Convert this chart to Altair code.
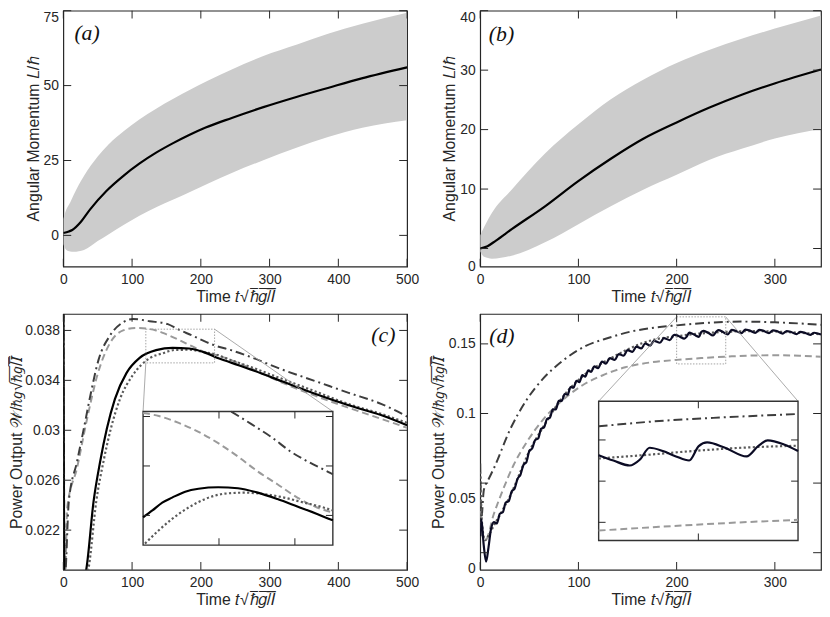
import altair as alt
import pandas as pd

FONT = "Liberation Sans"
FRAME = "#262626"

# ---------------- Panel (a): angular momentum, long run ----------------
a_t = [0, 8, 13, 25, 39, 63, 87, 111, 135, 159, 183, 207, 245, 291, 339, 386, 434, 500]
a_L = [0.8, 1.3, 1.8, 4.4, 8.7, 14.9, 19.8, 24.0, 27.6, 30.7, 33.5, 36.0, 39.2, 42.8, 46.2, 49.3, 52.4, 56.1]
a_band_t = [0, 4, 10, 15, 30, 50, 65, 90, 110, 135, 160, 185, 210, 245, 290, 340, 385, 435, 500]
a_hi = [5.5, 8.5, 11, 13.5, 19.8, 26.3, 30.2, 35.2, 38.6, 42.3, 45.6, 48.7, 51.6, 55.4, 59.8, 63.7, 67.3, 70.6, 74.3]
a_lo = [-3.0, -4.8, -5.4, -5.5, -4.9, -1.9, 0.2, 3.8, 6.5, 9.4, 12.0, 14.6, 17.2, 20.8, 25.0, 29.3, 32.8, 35.9, 38.4]

# ---------------- Panel (b): angular momentum, short run ----------------
b_t = [0, 7.4, 15.7, 32.5, 66, 99.5, 133, 166.5, 200, 233.5, 267, 300.5, 347]
b_L = [0.0, 0.39, 1.3, 3.3, 7.1, 11.3, 15.1, 18.5, 21.2, 23.7, 25.9, 27.8, 30.1]
b_band_t = [0, 4, 12, 32, 66, 100, 133, 166, 200, 233, 267, 300, 347]
b_hi = [2.2, 3.6, 6.0, 9.9, 16.0, 20.9, 25.1, 28.4, 31.2, 33.4, 35.3, 37.0, 39.2]
b_lo = [-0.5, -1.4, -1.7, -1.2, 1.05, 4.1, 7.1, 9.9, 12.4, 14.9, 16.8, 18.5, 20.1]

# ---------------- Panel (c): power output ----------------
c_solid_t = [0, 1.5, 30, 33.5, 44, 53.6, 63.2, 75, 92, 111, 135, 159, 183, 207, 220, 245, 271, 319, 367, 415, 463, 500]
c_solid = [0.041, 0.018, 0.018, 0.0189, 0.0243, 0.0275, 0.0301, 0.0325, 0.0346, 0.0358, 0.03642, 0.0366, 0.03655,
           0.0362, 0.0359, 0.0354, 0.0349, 0.0339, 0.0329, 0.032, 0.0312, 0.0304]
c_dotted_t = [0, 1.5, 33, 36.9, 47.9, 58.4, 69, 82.4, 101.5, 125.5, 144, 163, 183, 204.7, 220, 245, 271, 319, 367, 415, 463, 500]
c_dotted = [0.041, 0.018, 0.018, 0.019, 0.0243, 0.0275, 0.0301, 0.0325, 0.03445, 0.03577, 0.03616, 0.03644, 0.03645,
            0.03626, 0.0361, 0.0356, 0.0351, 0.0341, 0.0331, 0.0321, 0.0313, 0.0306]
c_dashed_t = [0, 2.5, 5.7, 20, 34.5, 48.9, 68, 87, 106, 135, 150, 170, 190.8, 211.7, 220, 245, 271, 319, 367, 415, 463, 500]
c_dashed = [0.041, 0.018, 0.0238, 0.027, 0.0309, 0.0343, 0.037, 0.038, 0.0382, 0.0380, 0.03769, 0.03719, 0.03663,
            0.03616, 0.03606, 0.0356, 0.0350, 0.0338, 0.03275, 0.0318, 0.0309, 0.0302]
c_dashdot_t = [0, 2, 8, 20, 29.7, 39.2, 51.2, 68, 87, 101.5, 125.5, 152, 166.5, 187.4, 208.2, 220, 245, 271, 319, 367, 415, 463, 500]
c_dashdot = [0.041, 0.018, 0.0243, 0.0275, 0.0301, 0.03275, 0.03564, 0.0376, 0.03866, 0.03892, 0.03874, 0.0385, 0.0381,
             0.03759, 0.03706, 0.0368, 0.0364, 0.0359, 0.03485, 0.03393, 0.033, 0.0321, 0.0311]

# inset (c), read from the magnified view
ci_solid_t = [120, 124.9, 130.1, 135.3, 142.2, 149.2, 159.6, 170, 180.4, 190.8, 201.3, 211.7, 220]
ci_solid = [0.03596, 0.0361, 0.03626, 0.03636, 0.03648, 0.03654, 0.03657, 0.03655, 0.03646, 0.03633, 0.03618, 0.03603, 0.0359]
ci_dotted_t = [121, 128.3, 135.3, 144, 152.6, 163.1, 173.5, 183.9, 194.3, 204.7, 215.1, 220]
ci_dotted = [0.03543, 0.0357, 0.03593, 0.03616, 0.03633, 0.03644, 0.03646, 0.03643, 0.03636, 0.03626, 0.03616, 0.0361]
ci_dashed_t = [120, 128.3, 138.8, 149.2, 159.6, 170, 180.4, 190.8, 201.3, 211.7, 220]
ci_dashed = [0.03807, 0.03801, 0.03787, 0.03769, 0.03746, 0.03719, 0.03689, 0.03663, 0.03636, 0.03616, 0.03606]
ci_dashdot_t = [166.5, 176.9, 187.4, 197.8, 208.2, 218.6, 220]
ci_dashdot = [0.0381, 0.03785, 0.03759, 0.03729, 0.03706, 0.03686, 0.03683]

# ---------------- Panel (d): power output ----------------
d_solid_t = [0, 1.2, 3.5, 6, 8.5, 11, 14, 17, 20, 23, 26, 29, 32, 35, 38, 41, 44, 47, 50, 53, 56, 59, 62, 65, 68, 71,
             74, 77, 80, 83, 86, 89, 92, 95, 98, 101, 104, 107, 110, 113, 116, 120, 124, 128, 132, 137, 141, 146, 150,
             155, 159, 164, 168, 173, 177, 183, 187, 193, 197.5, 200, 203.7, 207.8, 210.3, 212.8, 216.1, 219.4, 222.7,
             225.1, 227.2, 231.7, 237.1, 240, 242.4, 246.5, 250, 252, 256, 260, 266, 270, 274, 280, 284, 288, 294, 298,
             302, 308, 312, 316, 322, 326, 330, 336, 340, 347]
d_solid = [0.012, 0.024, 0.006, -0.0065, 0.004, 0.017, 0.022, 0.021, 0.028, 0.029, 0.036, 0.037, 0.044, 0.046, 0.053,
           0.056, 0.063, 0.065, 0.073, 0.075, 0.081, 0.082, 0.089, 0.090, 0.096, 0.097, 0.103, 0.103, 0.109, 0.109,
           0.114, 0.1135, 0.119, 0.1185, 0.1235, 0.1225, 0.1275, 0.1265, 0.131, 0.1298, 0.1338, 0.1325, 0.1372,
           0.1358, 0.1398, 0.1385, 0.1427, 0.1415, 0.1455, 0.1443, 0.148, 0.1467, 0.1503, 0.1488, 0.1522, 0.1508,
           0.1541, 0.1527, 0.1565, 0.1563, 0.155, 0.1538, 0.1552, 0.1581, 0.1573, 0.156, 0.155, 0.1585, 0.1594,
           0.1581, 0.156, 0.1585, 0.1599, 0.1589, 0.1573, 0.1568, 0.16, 0.1594, 0.1577, 0.1603, 0.1597, 0.1579,
           0.16, 0.1595, 0.1577, 0.1597, 0.1592, 0.1574, 0.1592, 0.1587, 0.157, 0.1586, 0.1581, 0.1565, 0.158, 0.1567]
d_dotted_t = [0, 2, 5, 9, 15, 20, 25, 30, 35, 40, 45, 50, 55, 60, 70, 80, 90, 100, 110, 120, 135, 150, 165, 180, 200,
              225, 250, 275, 300, 325, 347]
d_dotted = [0.058, 0.02, 0.009, 0.013, 0.021, 0.027, 0.0335, 0.04, 0.048, 0.0565, 0.065, 0.073, 0.0795, 0.0855, 0.097,
            0.108, 0.117, 0.124, 0.13, 0.1345, 0.1405, 0.146, 0.1505, 0.1535, 0.1555, 0.1575, 0.1586, 0.1592, 0.1588,
            0.158, 0.1568]
d_dashed_t = [0, 2, 5.3, 13.8, 23.8, 33.9, 47.2, 64, 84.1, 104.2, 124.3, 147.7, 174.6, 200, 225, 250, 275, 300, 325, 347]
d_dashed = [0.038, 0.012, 0.0088, 0.0276, 0.0463, 0.0628, 0.0792, 0.0956, 0.1097, 0.1203, 0.1273, 0.1332, 0.1368,
            0.1385, 0.1398, 0.1408, 0.1416, 0.1418, 0.1415, 0.1408]
d_dashdot_t = [0, 1.2, 3.7, 8, 13.8, 30.5, 47.2, 64, 84.1, 107.5, 131, 154.5, 174.6, 200, 233, 266.6, 300, 347]
d_dashdot = [0.064, 0.025, 0.045, 0.052, 0.0604, 0.0886, 0.1097, 0.125, 0.1379, 0.1485, 0.1544, 0.159, 0.1614,
             0.1633, 0.1652, 0.166, 0.1655, 0.1637]

# inset (d), read from the magnified view
di_solid_t = [200, 203.7, 207.8, 210.3, 212.8, 216.1, 219.4, 222.7, 225.1, 227.2, 231.7, 237.1, 240, 242.4, 246.5, 250]
di_solid = [0.1563, 0.155, 0.1538, 0.1552, 0.1581, 0.1573, 0.156, 0.155, 0.1585, 0.1594, 0.1581, 0.156, 0.1585,
            0.1599, 0.1589, 0.1573]
di_dotted_t = [200, 211.1, 223.5, 235.8, 250]
di_dotted = [0.1555, 0.1563, 0.1573, 0.1581, 0.1586]
di_dashed_t = [200, 215.2, 231.7, 250]
di_dashed = [0.138, 0.1389, 0.1398, 0.1406]
di_dashdot_t = [200, 215.2, 231.7, 250]
di_dashdot = [0.1633, 0.1646, 0.1655, 0.1663]

# axis tick values
a_xticks = [0, 100, 200, 300, 400, 500]
a_yticks = [0, 25, 50, 75]
b_xticks = [0, 100, 200, 300]
b_yticks = [0, 10, 20, 30, 40]
c_yticks = [0.022, 0.026, 0.03, 0.034, 0.038]
d_yticks = [0, 0.05, 0.1, 0.15]
ci_xticks = [160, 200]
ci_yticks = [0.036, 0.037, 0.038]
di_xticks = [225]
di_yticks = [0.14, 0.15, 0.16]

XT = "Time 𝑡√ℏ̅𝑔̅/̅𝐼̅"
YT_L = "Angular Momentum 𝐿/ℏ"
YT_P = "Power Output 𝒲̇/ℏ𝑔√ℏ̅𝑔̅/̅𝐼̅"

STY = {
    "solid": dict(color="#000000", strokeWidth=2.2),
    "dsolid": dict(color="#0b0b24", strokeWidth=2.2),
    "dotted": dict(color="#5a5a5a", strokeWidth=2.2, strokeDash=[2.2, 2.4]),
    "dashed": dict(color="#9a9a9a", strokeWidth=2.0, strokeDash=[7, 4]),
    "dashdot": dict(color="#3d3d3d", strokeWidth=2.0, strokeDash=[9, 4, 2, 4]),
}


def sc(dom):
    return alt.Scale(domain=dom, nice=False, zero=False)


def mapper(zx, zy, ix, iy):
    def fx(v):
        return ix[0] + (v - zx[0]) / (zx[1] - zx[0]) * (ix[1] - ix[0])

    def fy(v):
        return iy[0] + (v - zy[0]) / (zy[1] - zy[0]) * (iy[1] - iy[0])
    return fx, fy


class Panel:
    def __init__(self, xdom, ydom, xax, yax):
        self.xdom, self.ydom = xdom, ydom
        self.xs, self.ys = sc(xdom), sc(ydom)
        self.xax, self.yax = xax, yax
        self.layers = []

    def X(self, f):
        return alt.X(f + ":Q", scale=self.xs, axis=self.xax)

    def Y(self, f):
        return alt.Y(f + ":Q", scale=self.ys, axis=self.yax)

    def XD(self, v):
        return alt.XDatum(v, type="quantitative", scale=self.xs, axis=self.xax)

    def YD(self, v):
        return alt.YDatum(v, type="quantitative", scale=self.ys, axis=self.yax)

    def band(self, t, lo, hi):
        df = pd.DataFrame({"t": t, "lo": lo, "hi": hi})
        self.layers.append(alt.Chart(df).mark_area(color="#cccccc", interpolate="monotone", clip=True).encode(
            x=self.X("t"), y=self.Y("lo"), y2=alt.Y2("hi")))

    def line(self, t, y, style):
        df = pd.DataFrame({"t": t, "y": y})
        self.layers.append(alt.Chart(df).mark_line(interpolate="monotone", clip=True, **STY[style]).encode(
            x=self.X("t"), y=self.Y("y")))

    def ticks(self, xt, yt, xlim, ylim, size=8):
        dfx = pd.DataFrame({"v": xt})
        dfy = pd.DataFrame({"v": yt})
        for yv, off in ((ylim[0], -size / 2), (ylim[1], size / 2)):
            self.layers.append(alt.Chart(dfx).mark_tick(orient="vertical", size=size, thickness=1, color=FRAME,
                                                        yOffset=off, opacity=1).encode(
                x=self.X("v"), y=self.YD(yv)))
        for xv, off in ((xlim[0], size / 2), (xlim[1], -size / 2)):
            self.layers.append(alt.Chart(dfy).mark_tick(orient="horizontal", size=size, thickness=1, color=FRAME,
                                                        xOffset=off, opacity=1).encode(
                x=self.XD(xv), y=self.Y("v")))

    def label(self, txt, x, y, align="center"):
        df = pd.DataFrame({"lab": [txt]})
        self.layers.append(alt.Chart(df).mark_text(font="Liberation Serif", fontStyle="italic", fontSize=22,
                                                   color="#111111", align=align, baseline="middle").encode(
            x=self.XD(x), y=self.YD(y), text="lab:N"))

    def inset(self, zx, zy, ix, iy, series, xt, yt, corners):
        fx, fy = mapper(zx, zy, ix, iy)
        # source rectangle
        src = pd.DataFrame({"x0": [zx[0]], "x1": [zx[1]], "y0": [zy[0]], "y1": [zy[1]]})
        self.layers.append(alt.Chart(src).mark_rect(fill=None, stroke="#9a9a9a", strokeWidth=0.9,
                                                    strokeDash=[1.5, 1.5]).encode(
            x=self.X("x0"), x2=alt.X2("x1"), y=self.Y("y0"), y2=alt.Y2("y1")))
        # connector lines
        cx = [zx[i] for i, _ in corners]
        cy = [zy[j] for _, j in corners]
        ex = [ix[i] for i, _ in corners]
        ey = [iy[1] for _ in corners]
        con = pd.DataFrame({"x0": cx, "y0": cy, "x1": ex, "y1": ey})
        self.layers.append(alt.Chart(con).mark_rule(color="#a0a0a0", strokeWidth=0.9).encode(
            x=self.X("x0"), y=self.Y("y0"), x2=alt.X2("x1"), y2=alt.Y2("y1")))
        # inset box
        box = pd.DataFrame({"x0": [ix[0]], "x1": [ix[1]], "y0": [iy[0]], "y1": [iy[1]]})
        self.layers.append(alt.Chart(box).mark_rect(fill="white", stroke="#333333", strokeWidth=1.4).encode(
            x=self.X("x0"), x2=alt.X2("x1"), y=self.Y("y0"), y2=alt.Y2("y1")))
        for t, y, style in series:
            df = pd.DataFrame({"t": [fx(v) for v in t], "y": [fy(v) for v in y]})
            self.layers.append(alt.Chart(df).mark_line(interpolate="monotone", clip=True, **STY[style]).encode(
                x=self.X("t"), y=self.Y("y")))
        self.ticks([fx(v) for v in xt], [fy(v) for v in yt], ix, iy, size=7)

    def chart(self, w, h):
        return alt.layer(*self.layers).properties(width=w, height=h)


def xaxis(values):
    return alt.Axis(values=values, format="d", title=XT, labelPadding=6, titlePadding=2, labelFlush=False)


# ---- (a)
A = Panel([0, 500], [-10.4, 75], xaxis(a_xticks),
          alt.Axis(values=a_yticks, format="d", title=YT_L, labelPadding=5, titlePadding=2,
                   labelOffset={"condition": {"test": "datum.value == 75", "value": 7}, "value": 0}))
A.band(a_band_t, a_lo, a_hi)
A.line(a_t, a_L, "solid")
A.ticks(a_xticks, a_yticks, A.xdom, A.ydom)
A.label("(a)", 34.5, 67.5)

# ---- (b)
B = Panel([0, 347], [-3.03, 40], xaxis(b_xticks),
          alt.Axis(values=b_yticks, format="d", title=YT_L, labelPadding=5, titlePadding=2,
                   labelOffset={"condition": [{"test": "datum.value == 0", "value": 18},
                                              {"test": "datum.value == 40", "value": 7}], "value": 0}))
B.band(b_band_t, b_lo, b_hi)
B.line(b_t, b_L, "solid")
B.ticks(b_xticks, b_yticks, B.xdom, B.ydom)
B.label("(b)", 21.7, 36.1)

# ---- (c)
C = Panel([0, 500], [0.01882, 0.03932], xaxis(a_xticks),
          alt.Axis(values=c_yticks, format=".3~f", title=YT_P, labelPadding=4, titlePadding=0))
C.line(c_dashed_t, c_dashed, "dashed")
C.line(c_dashdot_t, c_dashdot, "dashdot")
C.line(c_dotted_t, c_dotted, "dotted")
C.line(c_solid_t, c_solid, "solid")
C.inset((120, 220), (0.0354, 0.0381), (116, 392), (0.0208, 0.0315),
        [(ci_dashed_t, ci_dashed, "dashed"), (ci_dashdot_t, ci_dashdot, "dashdot"),
         (ci_dotted_t, ci_dotted, "dotted"), (ci_solid_t, ci_solid, "solid")],
        ci_xticks, ci_yticks, corners=[(0, 0), (1, 1)])
C.ticks(a_xticks, c_yticks, C.xdom, C.ydom)
C.label("(c)", 465.5, 0.0376)

# ---- (d)
D = Panel([0, 347], [-0.0123, 0.1715], xaxis(b_xticks),
          alt.Axis(values=d_yticks, format=".2~f", title=YT_P, labelPadding=5, titlePadding=2,
                   labelOffset={"condition": {"test": "datum.value < 0.075", "value": 16}, "value": 0}))
D.line(d_dashed_t, d_dashed, "dashed")
D.line(d_dashdot_t, d_dashdot, "dashdot")
D.line(d_dotted_t, d_dotted, "dotted")
D.line(d_solid_t, d_solid, "dsolid")
D.inset((200, 250), (0.1356, 0.1694), (120.6, 323.6), (0.0088, 0.1088),
        [(di_dashed_t, di_dashed, "dashed"), (di_dashdot_t, di_dashdot, "dashdot"),
         (di_dotted_t, di_dotted, "dotted"), (di_solid_t, di_solid, "dsolid")],
        di_xticks, di_yticks, corners=[(0, 1), (1, 1)])
D.ticks(b_xticks, d_yticks, D.xdom, D.ydom)
D.label("(d)", 22.1, 0.1555)

chart = alt.concat(
    A.chart(348, 259), B.chart(345, 259), C.chart(348, 259), D.chart(345, 259),
    columns=2, spacing={"row": 48, "column": 74}, bounds="flush",
).properties(
    padding={"left": 0, "top": -3, "right": 0, "bottom": 0}
).configure_view(
    stroke=FRAME, strokeWidth=1.2
).configure_axis(
    labelFont=FONT, titleFont=FONT, labelFontSize=14, titleFontSize=16, labelColor=FRAME, titleColor=FRAME,
    titleFontWeight="normal", ticks=False, domain=False, grid=False
)

chart.save("out.html", embed_options={"renderer": "svg", "actions": False})
